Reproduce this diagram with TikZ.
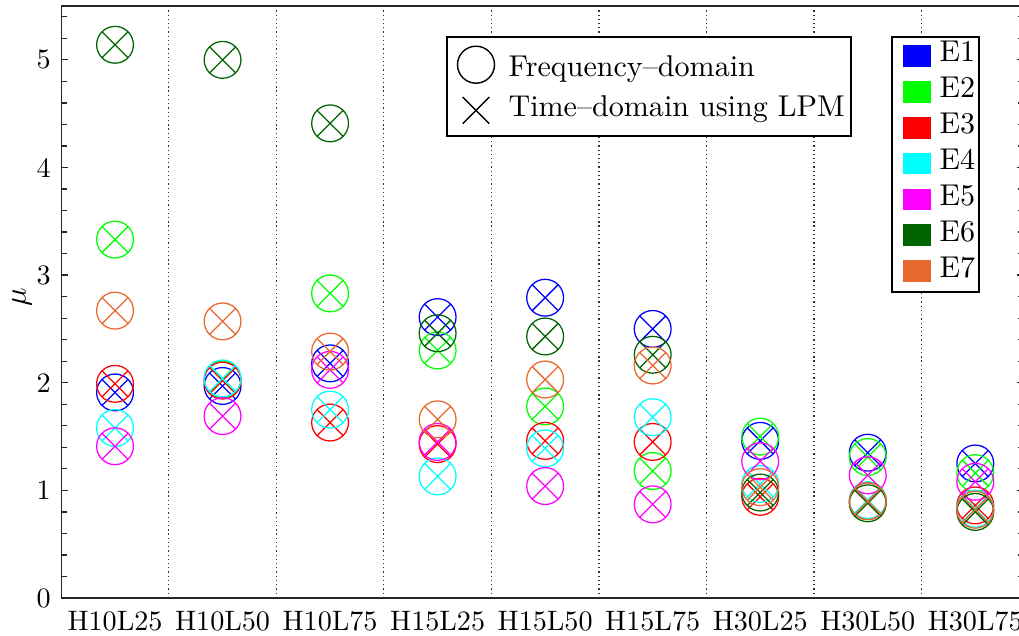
\documentclass[tikz,border=0pt]{standalone}
\usepackage{tikz}
\usetikzlibrary{positioning}
\definecolor{eone}{RGB}{0,0,255}
\definecolor{etwo}{RGB}{0,255,0}
\definecolor{ethree}{RGB}{255,0,0}
\definecolor{efour}{RGB}{0,255,255}
\definecolor{efive}{RGB}{255,0,255}
\definecolor{esix}{RGB}{0,100,0}
\definecolor{eseven}{RGB}{232,104,48}
\definecolor{axisgray}{gray}{0.15}
\tikzset{axis line/.style={axisgray, line width=0.45pt}, sep line/.style={black!80, line width=0.45pt, dash pattern=on 0.45pt off 1.05pt}, marker/.style={line width=0.45pt}, legend box/.style={draw=black, fill=white, line width=0.55pt}, tick lbl/.style={inner sep=0pt, font=\fontsize{10}{12}\selectfont}, legend lbl/.style={inner sep=0pt, font=\fontsize{10.7}{12}\selectfont}}

\begin{document}
\begin{tikzpicture}[x=0.0125cm, y=0.0125cm]
	\useasboundingbox (0,0) rectangle (1019,635);
	\def \rad {0.23cm}
	\def \arm {0.163cm}
	\begin{scope}[shift={(7.5,37)}, x=1.34375cm, y=1.345cm]
		\foreach \k in {1,...,8}
			\draw[sep line] (\k+0.5,0) -- (\k+0.5,5.5);
		\foreach \c/\vals in {eone/{1.91,1.97,2.18,2.61,2.79,2.50,1.46,1.35,1.25}, etwo/{3.33,2.03,2.83,2.30,1.78,1.18,1.50,1.31,1.16}, ethree/{1.99,2.02,1.63,1.43,1.46,1.45,0.94,0.90,0.86}, efour/{1.58,2.04,1.75,1.13,1.39,1.68,1.06,0.91,0.83}, efive/{1.41,1.69,2.12,1.45,1.04,0.87,1.27,1.14,1.08}, esix/{5.14,5.00,4.41,2.46,2.43,2.26,0.98,0.88,0.80}, eseven/{2.67,2.57,2.29,1.66,2.03,2.16,1.03,0.90,0.82}}
			\foreach \v [count=\i] in \vals
				\draw[marker, \c] (\i,\v) circle[radius=\rad] +(-\arm,-\arm) -- +(\arm,\arm) +(-\arm,\arm) -- +(\arm,-\arm);
		\draw[axis line] (9.45,0) -- (0.5,0) -- (0.5,5.5) -- (9.45,5.5) -- (9.45,0);
		\foreach \t in {0,...,5} {
			\draw[axis line] (0.5,\t) -- ++(2.5pt,0);
			\draw[axis line] (9.45,\t) -- ++(-2.5pt,0);
			\node[tick lbl, left=3.6pt of {(0.5,\t)}] (ylbl\t) {\t};
		}
		\foreach \t in {0.2,0.4,...,5.4} {
			\draw[axis line] (0.5,\t) -- ++(2pt,0);
			\draw[axis line] (9.45,\t) -- ++(-2pt,0);
		}
		\foreach \name [count=\i] in {H10L25,H10L50,H10L75,H15L25,H15L50,H15L75,H30L25,H30L50,H30L75}
			\node[tick lbl, below=4.4pt of {(\i,0)}] (xlbl\i) {\name};
		\node[rotate=90, font=\fontsize{11}{12}\selectfont] (ylabel) at (0.135,2.79) {$\mu$};
	\end{scope}
	\draw[legend box] (447,499) rectangle (851,598);
	\draw[line width=0.5pt] (476,570.3) circle[radius=18.5];
	\draw[line width=0.5pt] (462.7,511.4) -- (489.3,538) (462.7,538) -- (489.3,511.4);
	\node[legend lbl, anchor=base west] (freq) at (508,558.3) {Frequency--domain};
	\node[legend lbl, anchor=base west] (time) at (508,518.3) {Time--domain using LPM};
	\draw[legend box] (892,343) rectangle (979,598);
	\foreach \c [count=\i] in {eone,etwo,ethree,efour,efive,esix,eseven} {
		\fill[\c] (903,604.2-35.9*\i) rectangle (931,626-35.9*\i);
		\node[legend lbl, anchor=mid west] (entry\i) at (939,615.1-35.9*\i) {E\i};
	}
\end{tikzpicture}
\end{document}
